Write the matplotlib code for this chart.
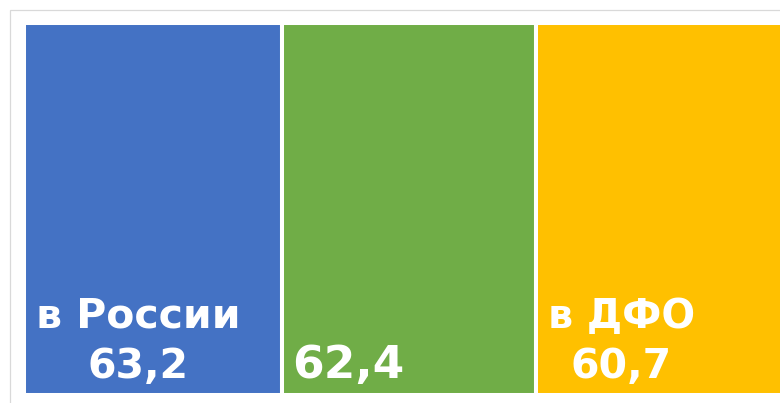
import matplotlib
matplotlib.use('Agg')
import matplotlib.pyplot as plt
from matplotlib.patches import Rectangle
import numpy as np

# data
names = ['в России', '', 'в ДФО']
values = [63.2, 62.4, 60.7]
value_labels = ['63,2', '62,4', '60,7']
colors = ['#4472C4', '#70AD47', '#FFC000']

W, H = 780, 403
px_per_unit = 4.077

fig = plt.figure(figsize=(W / 100, H / 100), dpi=100)
fig.patch.set_facecolor('white')

# light grey frame, runs off the right and bottom edges
fig.patches.append(Rectangle((9.5 / W, -0.2), 1.2, (H - 9.5) / H + 0.2,
                             transform=fig.transFigure, fill=False,
                             edgecolor='#d9d9d9', linewidth=0.9))

ax_left, ax_top, ax_bottom = 24, 23, 395
ax = fig.add_axes([ax_left / W, (H - ax_bottom) / H,
                   (W - ax_left) / W, (ax_bottom - ax_top) / H])
ax.set_axis_off()

lefts = np.concatenate([[0], np.cumsum(values)[:-1]])
ax.bar(lefts, [1] * len(values), width=values, align='edge', color=colors,
       edgecolor='white', linewidth=2.9)
ax.set_xlim(0, (W - ax_left) / px_per_unit)
ax.set_ylim(0, 1)

# label placement (pixel offsets from bar's lower-left corner)
center_off = [114, None, 85]
name_size = [29.5, None, 28.5]
for i in range(len(values)):
    if names[i]:
        ax.annotate(names[i], (lefts[i], 0), xytext=(center_off[i], 67),
                    textcoords='offset pixels', ha='center', va='baseline',
                    color='white', fontsize=name_size[i], fontweight='bold')
        ax.annotate(value_labels[i], (lefts[i], 0), xytext=(center_off[i], 17),
                    textcoords='offset pixels', ha='center', va='baseline',
                    color='white', fontsize=29.5, fontweight='bold')
    else:
        ax.annotate(value_labels[i], (lefts[i], 0), xytext=(10, 17),
                    textcoords='offset pixels', ha='left', va='baseline',
                    color='white', fontsize=32.7, fontweight='bold')

fig.savefig('out.png', dpi=100)
